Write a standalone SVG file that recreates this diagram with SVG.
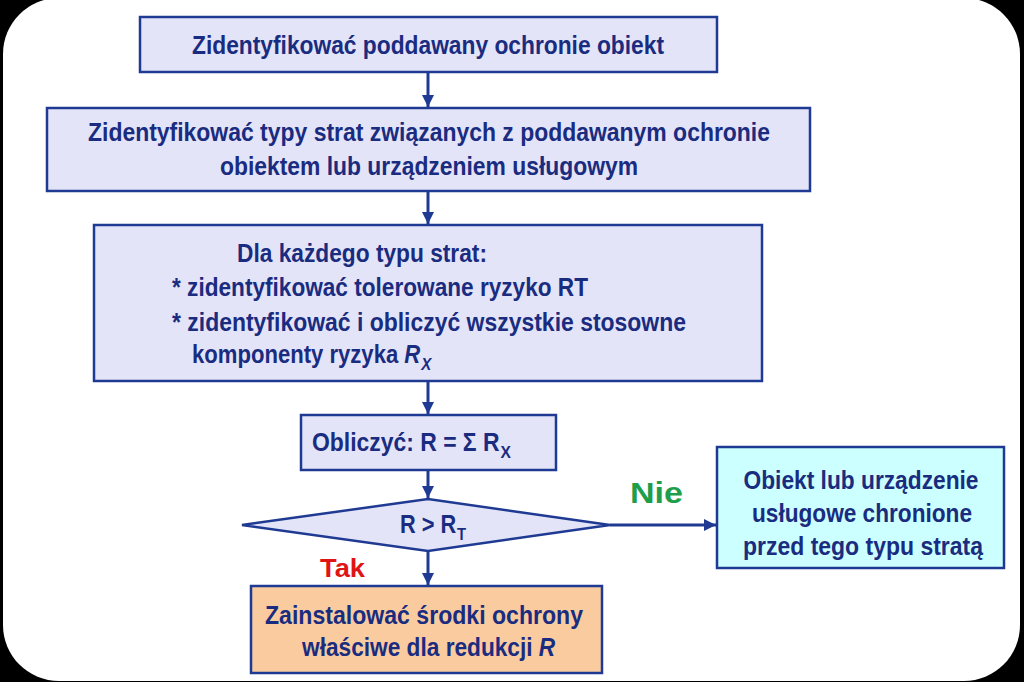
<svg xmlns="http://www.w3.org/2000/svg" width="1024" height="682" viewBox="0 0 1024 682">
<style>
.box{fill:#E4E4F8;stroke:#1E3A92;stroke-width:2.5}
.t{font-family:"Liberation Sans",Arial,sans-serif;font-weight:bold;font-size:25px;fill:#1A2C80}
.i{font-style:italic}
.c{text-anchor:middle}
.conn{stroke:#1E3A92;stroke-width:3;fill:none}
</style>
<defs>
<marker id="ah" markerUnits="userSpaceOnUse" markerWidth="14" markerHeight="12" refX="12" refY="6" orient="auto">
<path d="M0,0 L12,6 L0,12 Z" fill="#1E3A92"/>
</marker>
</defs>
<rect x="0" y="0" width="1024" height="682" fill="#000"/>
<rect x="3" y="-2" width="1017" height="683" rx="56" ry="56" fill="#FFFFFF"/>

<g id="connectors">
<line class="conn" x1="428" y1="72" x2="428" y2="107" marker-end="url(#ah)"/>
<line class="conn" x1="428" y1="191" x2="428" y2="224" marker-end="url(#ah)"/>
<line class="conn" x1="428" y1="381" x2="428" y2="414" marker-end="url(#ah)"/>
<line class="conn" x1="428" y1="470" x2="428" y2="498" marker-end="url(#ah)"/>
<line class="conn" x1="428" y1="551" x2="428" y2="585" marker-end="url(#ah)"/>
<line class="conn" x1="610" y1="525" x2="716" y2="525" marker-end="url(#ah)"/>
<text x="320" y="577" font-family="Liberation Sans, Arial, sans-serif" font-weight="bold" font-size="25" fill="#E01414" textLength="45" lengthAdjust="spacingAndGlyphs">Tak</text>
<text x="630" y="503" font-family="Liberation Sans, Arial, sans-serif" font-weight="bold" font-size="30" fill="#1E9E4A" textLength="53" lengthAdjust="spacingAndGlyphs">Nie</text>
</g>

<g id="n1">
<rect class="box" x="140" y="17" width="577" height="55"/>
<text class="t c" x="428" y="54" textLength="472" lengthAdjust="spacingAndGlyphs">Zidentyfikować poddawany ochronie obiekt</text>
</g>

<g id="n2">
<rect class="box" x="47" y="108" width="763" height="83"/>
<text class="t c" x="429" y="141" textLength="682" lengthAdjust="spacingAndGlyphs">Zidentyfikować typy strat związanych z poddawanym ochronie</text>
<text class="t c" x="429" y="175" textLength="418" lengthAdjust="spacingAndGlyphs">obiektem lub urządzeniem usługowym</text>
</g>

<g id="n3">
<rect class="box" x="94" y="225" width="668" height="156"/>
<text class="t" x="237" y="262" textLength="250" lengthAdjust="spacingAndGlyphs">Dla każdego typu strat:</text>
<text class="t" x="172" y="296" textLength="416" lengthAdjust="spacingAndGlyphs">* zidentyfikować tolerowane ryzyko RT</text>
<text class="t" x="172" y="331" textLength="514" lengthAdjust="spacingAndGlyphs">* zidentyfikować i obliczyć wszystkie stosowne</text>
<text class="t" transform="translate(192,363) scale(0.884,1)">komponenty ryzyka <tspan class="i">R</tspan><tspan class="i" font-size="17" dx="1" dy="7">X</tspan></text>
</g>

<g id="n4">
<rect class="box" x="301" y="415" width="255" height="55"/>
<text class="t" transform="translate(312,451) scale(0.917,1)">Obliczyć: R = Σ R<tspan font-size="17" dx="1" dy="7">X</tspan></text>
</g>

<g id="n5">
<polygon class="box" points="242,525 428,499 610,525 428,551"/>
<text class="t" transform="translate(400,533) scale(0.87,1)">R &gt; R<tspan font-size="17" dx="1" dy="7">T</tspan></text>
</g>

<g id="n6">
<rect x="717" y="447" width="287" height="121" fill="#CCFFFF" stroke="#1E3A92" stroke-width="2.5"/>
<text class="t c" x="861" y="489" textLength="235" lengthAdjust="spacingAndGlyphs">Obiekt lub urządzenie</text>
<text class="t c" x="862" y="522" textLength="220" lengthAdjust="spacingAndGlyphs">usługowe chronione</text>
<text class="t c" x="863" y="555" textLength="240" lengthAdjust="spacingAndGlyphs">przed tego typu stratą</text>
</g>

<g id="n7">
<rect x="251" y="586" width="351" height="87" fill="#F9CB9F" stroke="#1E3A92" stroke-width="2.5"/>
<text class="t c" x="424" y="624" textLength="318" lengthAdjust="spacingAndGlyphs">Zainstalować środki ochrony</text>
<text class="t" transform="translate(302,656) scale(0.907,1)">właściwe dla redukcji <tspan class="i">R</tspan></text>
</g>
</svg>
